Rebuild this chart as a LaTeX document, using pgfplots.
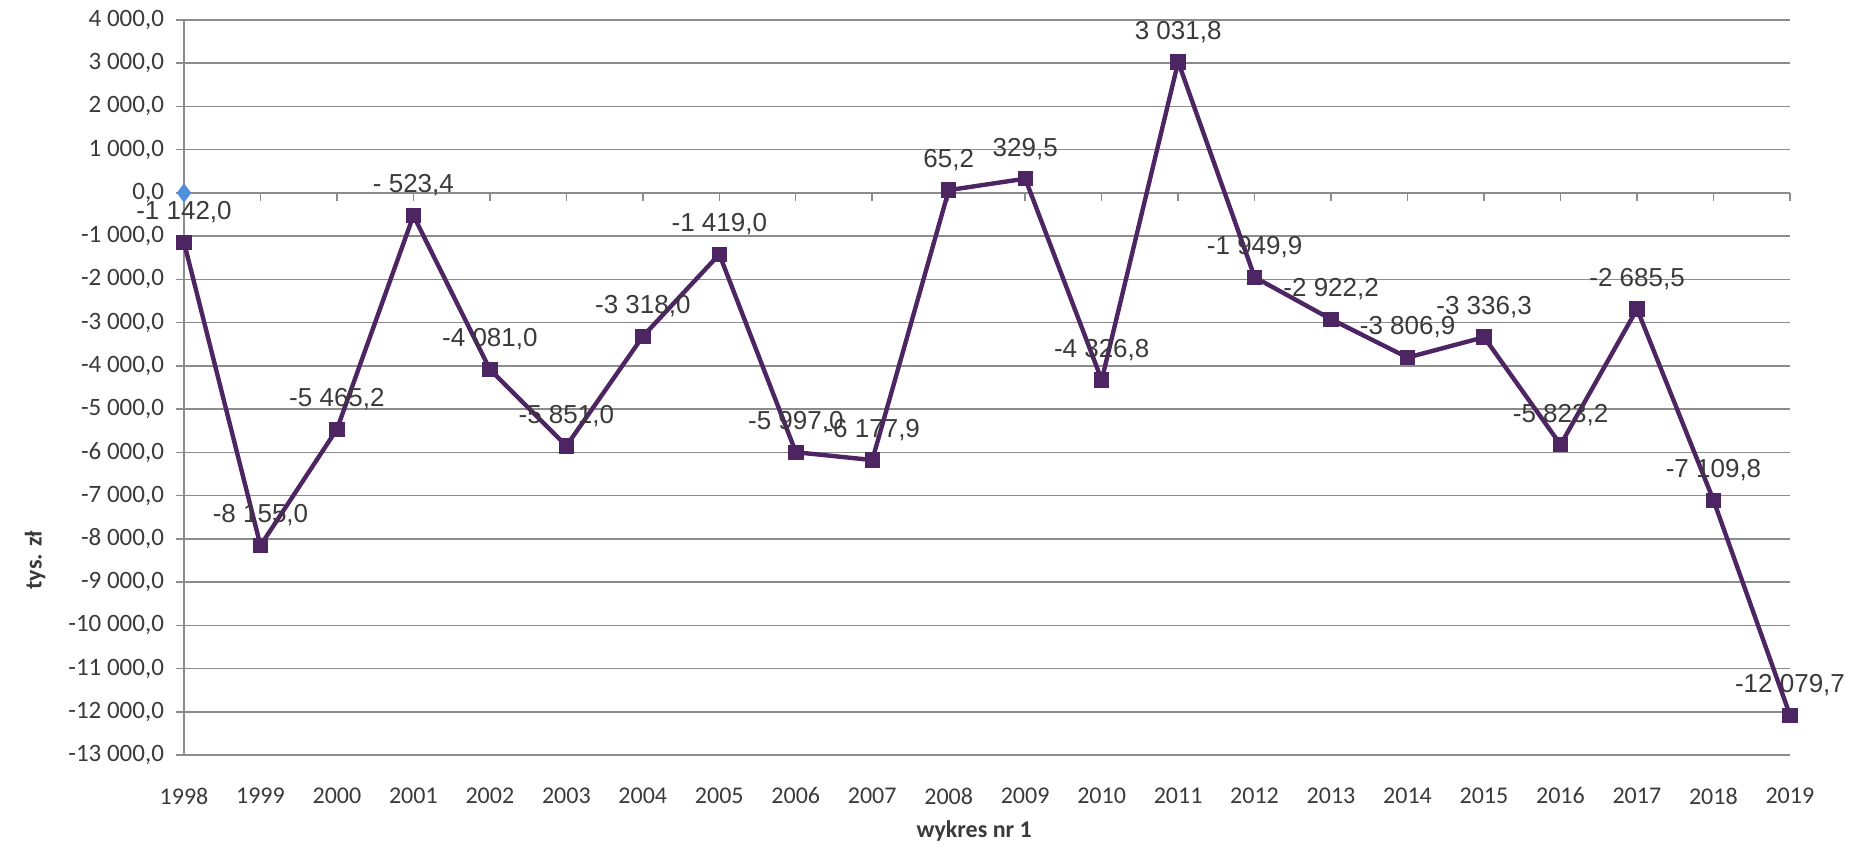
\documentclass[border=0pt]{standalone}
\usepackage{fontspec}
\setmainfont{Carlito}
\newfontfamily\arialfont{Liberation Sans}
\usepackage{pgfplots}
\pgfplotsset{compat=1.18}
\definecolor{gridgray}{HTML}{8C8C8C}
\definecolor{textgray}{HTML}{3A3A3A}
\definecolor{linepurple}{HTML}{4E2563}
\definecolor{markblue}{HTML}{4F8FDB}

\begin{document}
\begin{tikzpicture}
\useasboundingbox (-92bp,-47.5bp) rectangle (834bp,377.5bp);
\begin{axis}[
    scale only axis,
    width=803bp, height=367.5bp,
    xmin=1998, xmax=2019,
    ymin=-13000, ymax=4000,
    axis x line*=middle,
    axis y line*=left,
    hide obscured x ticks=false,
    hide obscured y ticks=false,
    xtick={1998,...,2019},
    ytick={-13000,-12000,...,4000},
    scaled y ticks=false,
    ymajorgrids,
    grid style={gridgray, line width=0.75bp},
    axis line style={gridgray, line width=0.75bp},
    tick style={gridgray, line width=0.75bp},
    major tick length=4bp,
    tick align=outside,
    clip=false,
    /pgf/number format/assume math mode=true,
    yticklabel style={font=\fontsize{12.5bp}{14bp}\selectfont, text=textgray, xshift=-2.5bp,
        /pgf/number format/fixed, /pgf/number format/fixed zerofill,
        /pgf/number format/precision=1, /pgf/number format/use comma,
        /pgf/number format/1000 sep={\ }},
    xticklabel style={font=\fontsize{12bp}{14bp}\selectfont, text=textgray, anchor=center, yshift=-297.5bp,
        /pgf/number format/1000 sep={}},
    every axis x label/.style={at={(rel axis cs:0.492,0)}, yshift=-38bp, anchor=center},
    every axis y label/.style={at={(rel axis cs:0,0.265)}, xshift=-74.5bp, rotate=90, anchor=center},
    xlabel={\fontsize{12bp}{14bp}\selectfont\bfseries wykres nr 1},
    ylabel={\fontsize{12bp}{14bp}\selectfont\bfseries tys. zł},
    label style={text=textgray},
    nodes near coords,
    point meta=explicit symbolic,
    every node near coord/.append style={anchor=center, yshift=15bp,
        font=\arialfont\fontsize{13bp}{15bp}\selectfont, text=textgray},
]
\addplot[only marks, mark=diamond*, mark size=4.5bp, color=markblue, nodes near coords={}]
    coordinates {(1998,0)};
\addplot[color=linepurple, line width=2.2bp, mark=square*, mark size=3.6bp,
    mark options={fill=linepurple, draw=linepurple, line width=0.5bp}]
    coordinates {
    (1998,-1142.0) [-1 142,0]
    (1999,-8155.0) [-8 155,0]
    (2000,-5465.2) [-5 465,2]
    (2001,-523.4) [- 523,4]
    (2002,-4081.0) [-4 081,0]
    (2003,-5851.0) [-5 851,0]
    (2004,-3318.0) [-3 318,0]
    (2005,-1419.0) [-1 419,0]
    (2006,-5997.0) [-5 997,0]
    (2007,-6177.9) [-6 177,9]
    (2008,65.2) [65,2]
    (2009,329.5) [329,5]
    (2010,-4326.8) [-4 326,8]
    (2011,3031.8) [3 031,8]
    (2012,-1949.9) [-1 949,9]
    (2013,-2922.2) [-2 922,2]
    (2014,-3806.9) [-3 806,9]
    (2015,-3336.3) [-3 336,3]
    (2016,-5823.2) [-5 823,2]
    (2017,-2685.5) [-2 685,5]
    (2018,-7109.8) [-7 109,8]
    (2019,-12079.7) [-12 079,7]
    };
\end{axis}
\end{tikzpicture}
\end{document}
